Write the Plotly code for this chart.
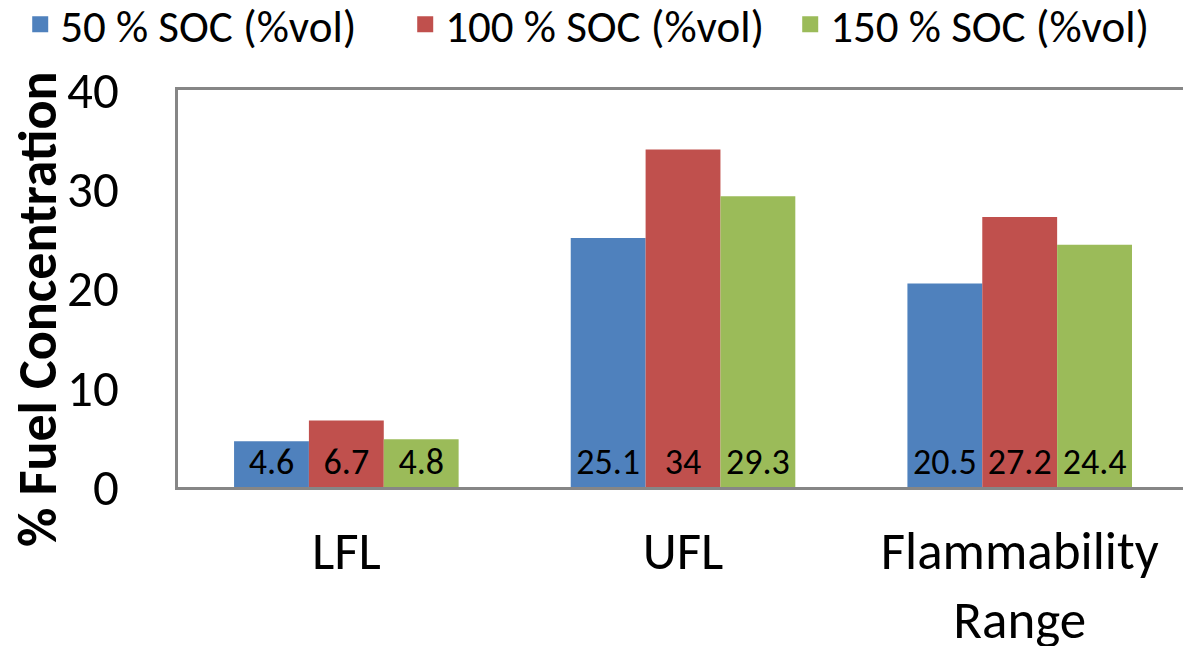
import plotly.graph_objects as go

categories = ["LFL", "UFL", "Flammability<br>Range"]
series_names = ["50 % SOC (%vol)", "100 % SOC (%vol)", "150 % SOC (%vol)"]
soc50 = [4.6, 25.1, 20.5]
soc100 = [6.7, 34, 27.2]
soc150 = [4.8, 29.3, 24.4]
colors = ["#4F81BD", "#C0504D", "#9BBB59"]
y_ticks = [0, 10, 20, 30, 40]

FONT = "Carlito, Calibri, Lato, sans-serif"

fig = go.Figure()
for name, vals, col in zip(series_names, [soc50, soc100, soc150], colors):
    fig.add_trace(go.Bar(
        name=name, x=categories, y=vals,
        marker=dict(color=col, line=dict(width=0)),
        text=[f"{v:g}" for v in vals],
        textposition="inside", insidetextanchor="start", textangle=0,
        constraintext="none",
        textfont=dict(family=FONT, size=36, color="black"),
        cliponaxis=False, showlegend=False,
    ))
# legend entries (square swatches)
for name, col in zip(series_names, colors):
    fig.add_trace(go.Scatter(
        name=name, x=[None], y=[None], mode="markers",
        marker=dict(symbol="square", size=23, color=col),
        showlegend=True,
    ))

fig.update_layout(
    width=1183, height=646,
    margin=dict(l=178, r=0, t=90, b=159, autoexpand=False),
    paper_bgcolor="white", plot_bgcolor="white",
    barmode="group", bargap=0.333, bargroupgap=0,
    font=dict(family=FONT, color="black"),
    showlegend=True,
    legend=dict(orientation="h", x=-0.157, xanchor="left", y=1.165, yanchor="middle",
                font=dict(family=FONT, size=45), traceorder="normal",
                itemwidth=30, entrywidth=340, itemsizing="trace"),
    annotations=[dict(
        text="<b>% Fuel Concentration</b>", xref="paper", yref="paper",
        x=-0.1393, y=0.446, xanchor="center", yanchor="middle", textangle=-90,
        showarrow=False, font=dict(family=FONT, size=54, color="black"),
    )],
)
fig.update_xaxes(
    range=[-0.5, 2.485], showline=True, mirror=True, linecolor="#868686", linewidth=3,
    showgrid=False, ticks="", tickfont=dict(family=FONT, size=53),
    ticklabelstandoff=15, automargin=False,
)
fig.update_yaxes(
    range=[0, 40], tickvals=y_ticks, showline=True, mirror=False,
    linecolor="#868686", linewidth=3, showgrid=False, zeroline=False, ticks="",
    tickfont=dict(family=FONT, size=51), ticklabelstandoff=46, automargin=False,
)

fig.write_html("out.html", config={"displayModeBar": False},
               post_script="document.body.style.margin='0';")
